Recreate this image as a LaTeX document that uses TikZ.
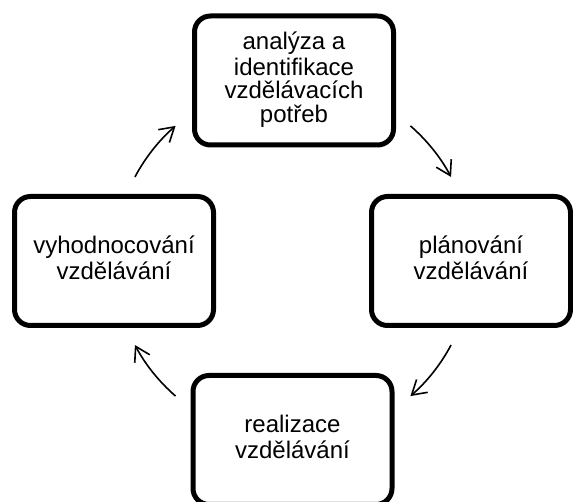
\documentclass[tikz,border=0pt]{standalone}
\usepackage{fontspec}
\setmainfont{Liberation Sans}
\usetikzlibrary{arrows.meta}
\begin{document}
\begin{tikzpicture}[x=1pt,y=1pt,
  stage/.style={draw=black, line width=5pt, rounded corners=16pt,
    minimum width=199pt, minimum height=129pt, inner sep=0pt,
    align=center, font=\fontsize{24}{23.5}\selectfont},
  cyc/.style={draw=black, line width=1.6pt,
    -{Straight Barb[length=14pt,width=17pt,line width=1.6pt]}}]
\useasboundingbox (0,0) rectangle (573,502);
\coordinate (c) at (293,241);
\node[stage] (top) at (294,421.5) {\strut analýza a\\identifikace\\vzdělávacích\\potřeb\strut};
\node[stage] (right) at (471,241) {\strut plánování\\vzdělávání\strut};
\node[stage] (bottom) at (292.5,62) {\strut realizace\\vzdělávání\strut};
\node[stage] (left) at (114,241) {\strut vyhodnocování\\vzdělávání\strut};
\draw[cyc] ([shift={(152:179pt)}]c) arc[start angle=152, end angle=131, radius=179pt];
\draw[cyc] ([shift={(49:179pt)}]c) arc[start angle=49, end angle=28, radius=179pt];
\draw[cyc] ([shift={(-28:179pt)}]c) arc[start angle=-28, end angle=-49, radius=179pt];
\draw[cyc] ([shift={(-131:179pt)}]c) arc[start angle=-131, end angle=-152, radius=179pt];
\end{tikzpicture}
\end{document}
